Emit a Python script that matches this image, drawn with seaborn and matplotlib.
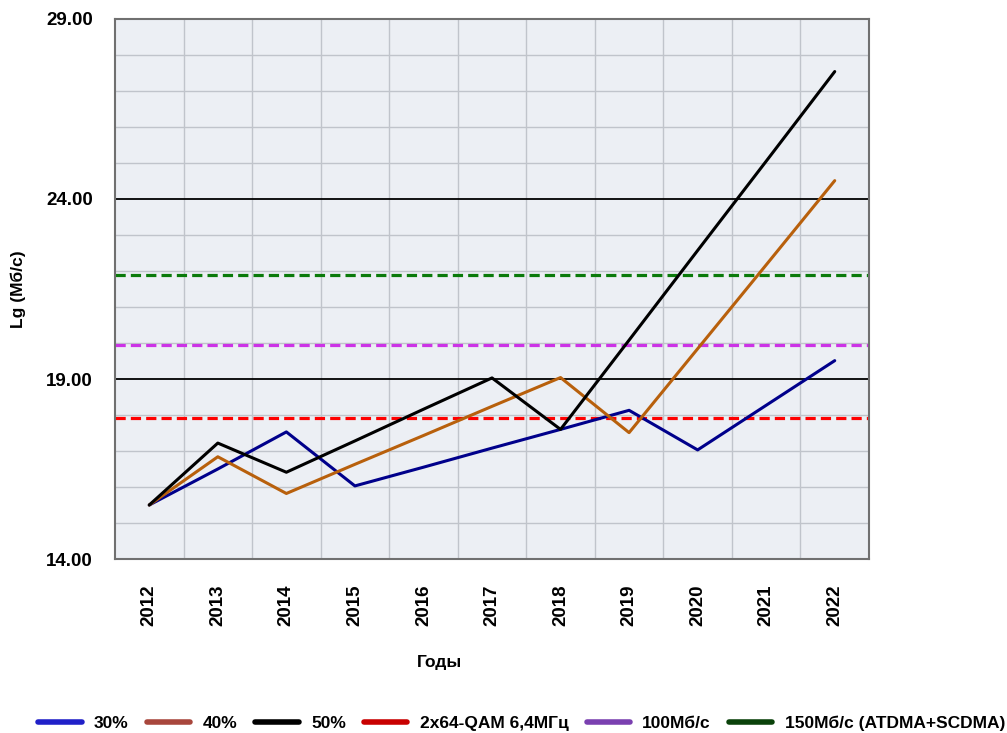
import matplotlib
matplotlib.use("Agg")
import matplotlib.pyplot as plt
from matplotlib.lines import Line2D
from matplotlib.ticker import MultipleLocator
import numpy as np
import pandas as pd
import seaborn as sns

# ---- data ----
years = ["2012", "2013", "2014", "2015", "2016", "2017", "2018", "2019", "2020", "2021", "2022"]
s30 = [15.5, 16.5, 17.53, 16.03, 16.55, 17.08, 17.6, 18.13, 17.03, 18.27, 19.51]
s40 = [15.5, 16.84, 15.82, 16.63, 17.43, 18.24, 19.04, 17.51, 19.84, 22.17, 24.51]
s50 = [15.5, 17.22, 16.41, 17.28, 18.16, 19.03, 17.6, 20.08, 22.57, 25.05, 27.54]
series_names = ["30%", "40%", "50%"]
level_names = ["2x64-QAM 6,4МГц", "100Мб/с", "150Мб/с (ATDMA+SCDMA)"]
level_values = [17.93, 19.94, 21.9]
y_ticks = [14, 19, 24, 29]

line_colors = ["#00008b", "#b8600c", "#000000"]
level_colors = ["#ff0000", "#cc33e6", "#0a7a0a"]
legend_colors = ["#2020c8", "#a8463c", "#000000", "#c80000", "#7a40b0", "#0a420a"]

sns.set_theme(style="white")
plt.rcParams["font.family"] = ["Liberation Sans", "DejaVu Sans"]
plt.rcParams["text.color"] = "black"
plt.rcParams["axes.labelcolor"] = "black"
plt.rcParams["xtick.color"] = "black"
plt.rcParams["ytick.color"] = "black"

df = pd.DataFrame({
    "x": list(range(len(years))) * 3,
    "y": s30 + s40 + s50,
    "series": [n for n in series_names for _ in years],
})

fig = plt.figure(figsize=(10.07, 7.33), dpi=100)
ax = fig.add_axes([115 / 1007, 1 - 559 / 733, 754 / 1007, 540 / 733])
ax.set_facecolor("#eceff4")

# grid
ax.set_ylim(14, 29)
ax.set_xlim(-0.5, len(years) - 0.5)
ax.yaxis.set_major_locator(MultipleLocator(5))
ax.yaxis.set_minor_locator(MultipleLocator(1))
ax.set_xticks(range(len(years)))
ax.set_xticks(np.arange(0.5, len(years) - 1, 1.0), minor=True)
ax.grid(which="minor", axis="both", color="#c0c4cb", linewidth=1.0)
ax.grid(which="major", axis="y", color="#000000", linewidth=1.3)
ax.grid(which="major", axis="x", visible=False)
ax.set_axisbelow(True)

for val, col in zip(level_values, level_colors):
    ax.axhline(val, color=col, linestyle=(0, (3.2, 1.6)), linewidth=2.3, zorder=2)

sns.lineplot(data=df, x="x", y="y", hue="series", palette=line_colors,
             hue_order=series_names, linewidth=2.2, legend=False, ax=ax, zorder=3)

ax.set_yticks(y_ticks)
ax.set_yticklabels([f"{v:.2f}" for v in y_ticks], fontsize=13.5, fontweight="bold")
ax.set_xticklabels(years, rotation=90, fontsize=13.5, fontweight="bold")
ax.tick_params(axis="y", which="both", length=0, pad=16)
ax.tick_params(axis="x", which="both", length=0, pad=18)
for lab in ax.get_yticklabels():
    lab.set_verticalalignment("center_baseline")

ax.set_ylabel("Lg (Мб/с)", fontsize=12.5, fontweight="bold")
ax.yaxis.set_label_coords(-0.118, 0.5)
ax.set_xlabel("Годы", fontsize=12.5, fontweight="bold")
ax.xaxis.set_label_coords(0.431, -0.178)

for sp in ax.spines.values():
    sp.set_visible(True)
    sp.set_color("#707070")
    sp.set_linewidth(1.5)

handles = [Line2D([0], [0], color=c, linewidth=4, solid_capstyle="round") for c in legend_colors]
labels = series_names + level_names
fig.legend(handles, labels, loc="center", bbox_to_anchor=(0.518, 1 - 723 / 733), ncol=6,
           frameon=False, handlelength=2.5, columnspacing=1.05, handletextpad=0.7,
           prop={"weight": "bold", "size": 12.5})

fig.savefig("out.png", dpi=100)
